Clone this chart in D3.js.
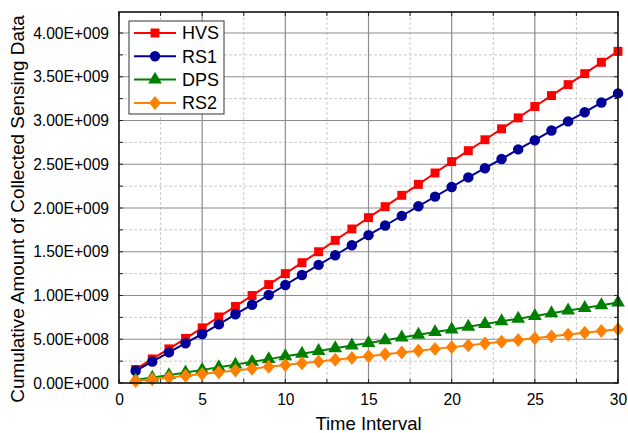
<!DOCTYPE html>
<html>
<head>
<meta charset="utf-8">
<script src="https://cdn.jsdelivr.net/npm/d3@7"></script>
<style>
  html, body { margin: 0; padding: 0; background: #fff; }
  svg { display: block; font-family: "Liberation Sans", Arial, sans-serif; }
</style>
</head>
<body>
<svg id="chart" width="628" height="433"></svg>
<script>
// Time intervals 1..30
const intervals = [1,2,3,4,5,6,7,8,9,10,11,12,13,14,15,16,17,18,19,20,21,22,23,24,25,26,27,28,29,30];

// Cumulative collected sensing data (units of 1e9)
const hvs = [0.155,0.275,0.39,0.51,0.63,0.755,0.875,1.0,1.125,1.25,1.375,1.5,1.63,1.76,1.89,2.015,2.145,2.27,2.4,2.53,2.655,2.78,2.905,3.03,3.16,3.285,3.41,3.535,3.665,3.79];
const rs1 = [0.14,0.245,0.35,0.455,0.56,0.67,0.785,0.895,1.005,1.12,1.235,1.35,1.46,1.575,1.69,1.8,1.91,2.02,2.13,2.24,2.35,2.455,2.56,2.67,2.775,2.885,2.99,3.095,3.205,3.31];
const dps = [0.035,0.062,0.09,0.12,0.15,0.18,0.21,0.242,0.273,0.305,0.335,0.366,0.397,0.428,0.458,0.489,0.52,0.551,0.582,0.612,0.643,0.674,0.705,0.735,0.766,0.797,0.828,0.858,0.889,0.92];
const rs2 = [0.022,0.042,0.062,0.083,0.103,0.123,0.144,0.164,0.185,0.205,0.225,0.246,0.266,0.287,0.307,0.328,0.348,0.369,0.39,0.41,0.43,0.451,0.471,0.492,0.512,0.533,0.553,0.574,0.594,0.614];

const seriesNames = ["HVS", "RS1", "DPS", "RS2"];
const seriesColors = ["#ff0000", "#000099", "#008000", "#ff8000"];
// diamond drawn as a square turned by 45 degrees, stretched a little vertically
const seriesSymbols = [d3.symbolSquare, d3.symbolCircle, d3.symbolTriangle, d3.symbolSquare];
const seriesShape = ["", "", "", " scale(1,1.18) rotate(45)"];
const seriesSizes = [80, 86, 82, 70];
const seriesValues = [hvs, rs1, dps, rs2];

const xTicks = [0, 5, 10, 15, 20, 25, 30];
const yTicks = [0, 0.5, 1.0, 1.5, 2.0, 2.5, 3.0, 3.5, 4.0];
const yTickLabels = ["0.00E+000","5.00E+008","1.00E+009","1.50E+009","2.00E+009","2.50E+009","3.00E+009","3.50E+009","4.00E+009"];

const margin = { left: 119, right: 10, top: 12, bottom: 50 };
const W = 628, H = 433;
const pw = W - margin.left - margin.right;
const ph = H - margin.top - margin.bottom;

const svg = d3.select("#chart");
const g = svg.append("g").attr("transform", `translate(${margin.left},${margin.top})`);

const x = d3.scaleLinear().domain([0, 30]).range([0, pw]);
const y = d3.scaleLinear().domain([0, 4.24]).range([ph, 0]);

// minor dashed grid
const xMinor = d3.range(2.5, 30, 5);
const yMinor = d3.range(0.25, 4.24, 0.5);
g.append("g").selectAll("line").data(xMinor).join("line")
  .attr("x1", d => x(d)).attr("x2", d => x(d)).attr("y1", 0).attr("y2", ph)
  .attr("stroke", "#c8c8c8").attr("stroke-width", 1).attr("stroke-dasharray", "3,2");
g.append("g").selectAll("line").data(yMinor).join("line")
  .attr("y1", d => y(d)).attr("y2", d => y(d)).attr("x1", 0).attr("x2", pw)
  .attr("stroke", "#c8c8c8").attr("stroke-width", 1).attr("stroke-dasharray", "3,2");

// major solid grid
g.append("g").selectAll("line").data(xTicks.slice(1, -1)).join("line")
  .attr("x1", d => x(d)).attr("x2", d => x(d)).attr("y1", 0).attr("y2", ph)
  .attr("stroke", "#8c8c8c").attr("stroke-width", 1.2);
g.append("g").selectAll("line").data(yTicks.slice(1)).join("line")
  .attr("y1", d => y(d)).attr("y2", d => y(d)).attr("x1", 0).attr("x2", pw)
  .attr("stroke", "#8c8c8c").attr("stroke-width", 1.2);

// axes
const xAxis = d3.axisBottom(x).tickValues(xTicks).tickSize(0).tickPadding(11);
const yAxis = d3.axisLeft(y).tickValues(yTicks).tickFormat((d, i) => yTickLabels[i]).tickSize(0).tickPadding(10);

const gx = g.append("g").attr("transform", `translate(0,${ph})`).call(xAxis);
const gy = g.append("g").call(yAxis);
[gx, gy].forEach(a => {
  a.select(".domain").remove();
  a.attr("font-size", null).attr("font-family", null);
  a.selectAll("text").style("font-size", "15.6px").attr("fill", "#000")
    .style("font-family", "'Liberation Sans', Arial, sans-serif");
});

// small inward tick marks on all four sides
const tickLen = 4;
const xAll = d3.range(0, 30.01, 2.5);
const yAll = d3.range(0, 4.24, 0.25);
const tk = g.append("g").attr("stroke", "#222").attr("stroke-width", 1);
tk.selectAll(".tb").data(xAll).join("line").attr("class", "tb")
  .attr("x1", d => x(d)).attr("x2", d => x(d)).attr("y1", ph).attr("y2", ph - tickLen);
tk.selectAll(".tt").data(xAll).join("line").attr("class", "tt")
  .attr("x1", d => x(d)).attr("x2", d => x(d)).attr("y1", 0).attr("y2", tickLen);
tk.selectAll(".tl").data(yAll).join("line").attr("class", "tl")
  .attr("y1", d => y(d)).attr("y2", d => y(d)).attr("x1", 0).attr("x2", tickLen);
tk.selectAll(".tr").data(yAll).join("line").attr("class", "tr")
  .attr("y1", d => y(d)).attr("y2", d => y(d)).attr("x1", pw).attr("x2", pw - tickLen);

// series lines and markers
const line = d3.line().x((d, i) => x(intervals[i])).y(d => y(d));
seriesValues.forEach((vals, si) => {
  const sg = g.append("g");
  sg.append("path").datum(vals).attr("d", line)
    .attr("fill", "none").attr("stroke", seriesColors[si]).attr("stroke-width", 2);
  sg.selectAll("path.m").data(vals).join("path").attr("class", "m")
    .attr("transform", (d, i) => `translate(${x(intervals[i])},${y(d)})${seriesShape[si]}`)
    .attr("d", d3.symbol().type(seriesSymbols[si]).size(seriesSizes[si]))
    .attr("fill", seriesColors[si]);
});

// plot frame
g.append("rect").attr("x", 0).attr("y", 0).attr("width", pw).attr("height", ph)
  .attr("fill", "none").attr("stroke", "#111").attr("stroke-width", 1.6);

// legend
const lg = svg.append("g").attr("transform", "translate(129,21)");
lg.append("rect").attr("x", 0).attr("y", 0).attr("width", 95).attr("height", 93)
  .attr("fill", "#fff").attr("stroke", "#333").attr("stroke-width", 1);
seriesNames.forEach((name, i) => {
  const cy = 12 + i * 23.3;
  lg.append("line").attr("x1", 5).attr("x2", 47).attr("y1", cy).attr("y2", cy)
    .attr("stroke", seriesColors[i]).attr("stroke-width", 2);
  lg.append("path").attr("transform", `translate(26,${cy})${seriesShape[i]}`)
    .attr("d", d3.symbol().type(seriesSymbols[i]).size(seriesSizes[i]))
    .attr("fill", seriesColors[i]);
  lg.append("text").attr("x", 53).attr("y", cy).attr("dy", "0.36em")
    .style("font-size", "18px").attr("fill", "#000").text(name);
});

// axis titles
svg.append("text").attr("x", margin.left + pw / 2).attr("y", 430)
  .attr("text-anchor", "middle").style("font-size", "18.5px").text("Time Interval");
svg.append("text").attr("transform", "translate(24,209) rotate(-90)")
  .attr("text-anchor", "middle").style("font-size", "18.9px")
  .text("Cumulative Amount of Collected Sensing Data");
</script>
</body>
</html>
